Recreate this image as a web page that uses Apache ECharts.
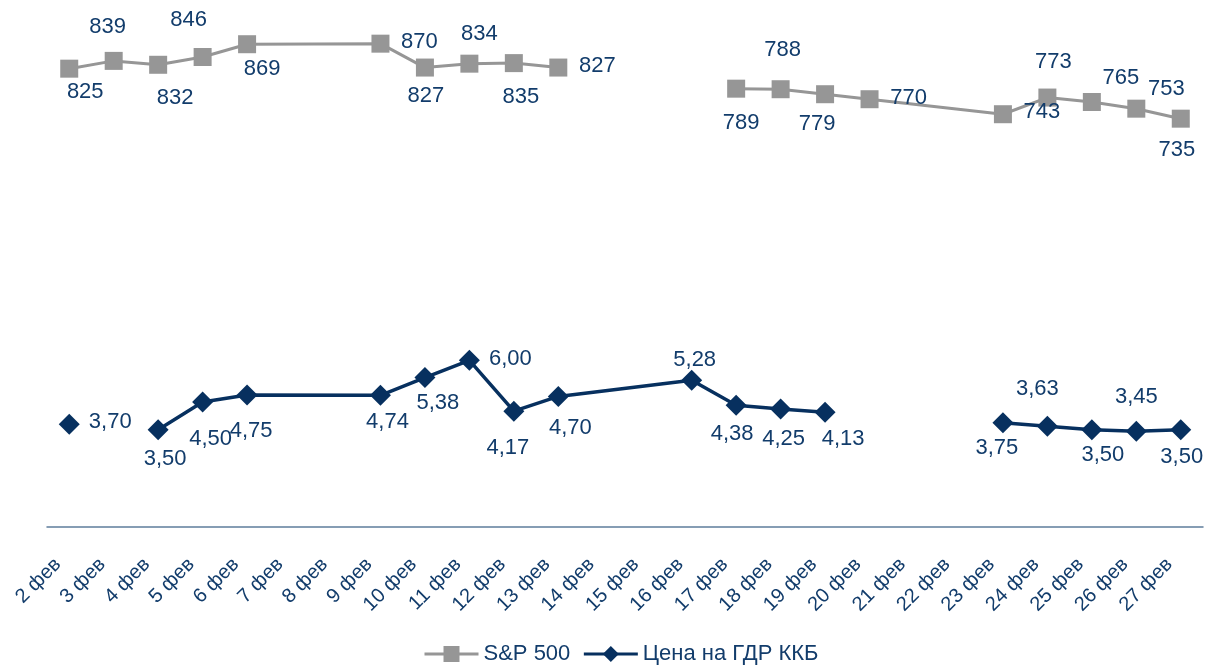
<!DOCTYPE html>
<html>
<head>
<meta charset="utf-8">
<script src="https://cdn.jsdelivr.net/npm/echarts@6/dist/echarts.min.js"></script>
<style>
    html, body { margin: 0; background: #fff; }
    #chart { width: 1213px; height: 668px; }
</style>
</head>
<body>
<div id="chart"></div>
<script>
    // данные
    const categories = ['2 фев', '3 фев', '4 фев', '5 фев', '6 фев', '7 фев', '8 фев', '9 фев', '10 фев',
        '11 фев', '12 фев', '13 фев', '14 фев', '15 фев', '16 фев', '17 фев', '18 фев', '19 фев',
        '20 фев', '21 фев', '22 фев', '23 фев', '24 фев', '25 фев', '26 фев', '27 фев']

    const spValues = [825, 839, 832, 846, 869, null, null, 870, 827, 834, 835, 827, null, null, null,
        789, 788, 779, 770, null, null, 743, 773, 765, 753, 735]
    // индексы, где линия разрывается (остальные пропуски соединяются)
    const spBreaks = [12]

    const kkbValues = [3.70, null, 3.50, 4.50, 4.75, null, null, 4.74, 5.38, 6.00, 4.17, 4.70, null, null,
        5.28, 4.38, 4.25, 4.13, null, null, null, 3.75, 3.63, 3.50, 3.45, 3.50]
    const kkbBreaks = [1, 18]

    // расположение подписей (смещение от маркера)
    const spLabelOffsets = [[16, 23], [-6, -34], [17, 33], [-14, -37], [15, 25], null, null,
        [39, -2], [1, 28], [10, -30], [7, 34], [39, -2], null, null, null,
        [5, 34], [2, -39], [-8, 30], [39, -1], null, null,
        [39, -2], [6, -36], [29, -24], [30, -20], [-4, 31]]
    const kkbLabelOffsets = [[41, -2], null, [7, 29], [8, 37], [4, 36], null, null,
        [7, 27], [13, 25], [41, -1], [-6, 37], [12, 31], null, null,
        [3, -20], [-4, 29], [3, 30], [18, 27], null, null, null,
        [-6, 25], [-10, -37], [11, 25], [0, -34], [1, 27]]

    const FONT = 'Arial, "Liberation Sans", sans-serif'
    const NAVY = '#07305f'
    const TEXT = '#123c6b'
    const GRAY = '#969696'

    function buildData(values, breaks, offsets) {
        const out = []
        values.forEach((v, i) => {
            if (v != null) {
                out.push({value: [i, v], label: {offset: offsets[i] || [0, 0]}})
            } else if (breaks.includes(i)) {
                out.push({value: [i, '-']})
            }
        })
        return out
    }

    const chart = echarts.init(document.getElementById('chart'))
    chart.setOption({
        animation: false,
        textStyle: {fontFamily: FONT},
        grid: {left: 47, right: 10, top: 27, bottom: 141},
        legend: {
            left: 423,
            top: 643,
            padding: 0,
            itemWidth: 54,
            itemHeight: 20,
            itemGap: 12,
            lineStyle: {width: 3},
            textStyle: {fontSize: 22, color: TEXT, fontFamily: FONT},
            data: ['S&P 500', 'Цена на ГДР ККБ']
        },
        xAxis: {
            type: 'category',
            data: categories,
            axisTick: {show: false},
            axisLine: {lineStyle: {color: '#5f7d9c', width: 1.5}},
            axisLabel: {
                interval: 0,
                rotate: 45,
                margin: 23,
                padding: [0, 16, 0, 0],
                fontSize: 20,
                color: TEXT,
                fontFamily: FONT
            }
        },
        yAxis: [
            {type: 'value', min: 0, max: 18, show: false, splitLine: {show: false}},
            {type: 'value', min: 0, max: 900, show: false, splitLine: {show: false}}
        ],
        series: [
            {
                name: 'S&P 500',
                type: 'line',
                yAxisIndex: 1,
                symbol: 'rect',
                symbolSize: 18,
                lineStyle: {color: GRAY, width: 3},
                itemStyle: {color: GRAY},
                label: {
                    show: true,
                    position: 'inside',
                    fontSize: 22,
                    color: TEXT,
                    fontFamily: FONT,
                    formatter: p => String(p.value[1])
                },
                data: buildData(spValues, spBreaks, spLabelOffsets)
            },
            {
                name: 'Цена на ГДР ККБ',
                type: 'line',
                yAxisIndex: 0,
                symbol: 'diamond',
                symbolSize: 21,
                lineStyle: {color: NAVY, width: 3.5},
                itemStyle: {color: NAVY},
                label: {
                    show: true,
                    position: 'inside',
                    fontSize: 22,
                    color: TEXT,
                    fontFamily: FONT,
                    formatter: p => p.value[1].toFixed(2).replace('.', ',')
                },
                data: buildData(kkbValues, kkbBreaks, kkbLabelOffsets)
            }
        ]
    })
</script>
</body>
</html>
